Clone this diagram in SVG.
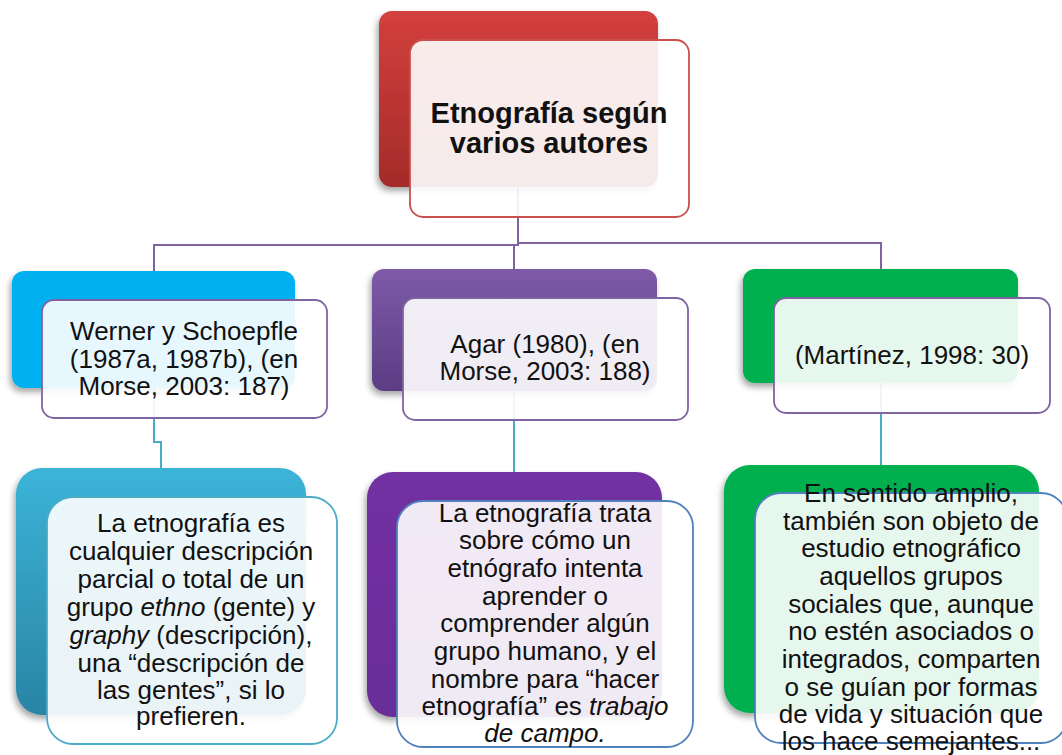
<svg xmlns="http://www.w3.org/2000/svg" width="1062" height="755" viewBox="0 0 1062 755">
<defs>
<filter id="sh" x="-10%" y="-10%" width="120%" height="130%">
<feDropShadow dx="-2" dy="4" stdDeviation="3" flood-color="#000" flood-opacity="0.35"/>
</filter>
<linearGradient id="gRed" x1="0" y1="0" x2="0" y2="1"><stop offset="0" stop-color="#d3403c"/><stop offset="1" stop-color="#a42b2a"/></linearGradient>
<linearGradient id="gTeal" x1="0" y1="0" x2="0" y2="1"><stop offset="0" stop-color="#3bb4d8"/><stop offset="1" stop-color="#2a84a4"/></linearGradient>
<linearGradient id="gPurp" x1="0" y1="0" x2="0" y2="1"><stop offset="0" stop-color="#7d5aa8"/><stop offset="1" stop-color="#5c3d84"/></linearGradient>
<linearGradient id="gVio" x1="0" y1="0" x2="0" y2="1"><stop offset="0" stop-color="#7230a2"/><stop offset="1" stop-color="#6a2d98"/></linearGradient>
</defs>
<style>
.back{filter:url(#sh)}
.front{fill:#ffffff;fill-opacity:0.9;stroke-width:1.8}
.t{font-family:"Liberation Sans",Arial,sans-serif;font-size:26px;fill:#111;text-anchor:middle}
.tb{font-family:"Liberation Sans",Arial,sans-serif;font-size:29px;font-weight:bold;fill:#111;text-anchor:middle}
.cP{fill:none;stroke:#8064a2;stroke-width:2}
.cB{fill:none;stroke:#4bacc6;stroke-width:2}
</style>
<g id="connectors">
<path class="cP" d="M518,188 V245 H154 V271"/>
<path class="cP" d="M518,243 H881 V269"/>
<path class="cP" d="M514,245 V269"/>
<path class="cB" d="M154,388 V442 H161 V468"/>
<path class="cB" d="M514,391 V472"/>
<path class="cB" d="M881,383 V465"/>
</g>
<g id="root">
<rect class="back" x="379" y="11" width="279" height="176" rx="13" fill="url(#gRed)"/>
<rect class="front" x="410" y="40" width="279" height="177" rx="13" stroke="#c9504c"/>
<text class="tb"><tspan x="549" y="123">Etnografía según</tspan><tspan x="549" y="153">varios autores</tspan></text>
</g>
<g id="werner">
<rect class="back" x="12" y="271" width="283" height="117" rx="12" fill="#00b0f0"/>
<rect class="front" x="42" y="300" width="285" height="118" rx="12" stroke="#8064a2"/>
<text class="t"><tspan x="184" y="340">Werner y Schoepfle</tspan><tspan x="184" y="368">(1987a, 1987b), (en</tspan><tspan x="184" y="395">Morse, 2003: 187)</tspan></text>
</g>
<g id="agar">
<rect class="back" x="372" y="269" width="285" height="122" rx="12" fill="url(#gPurp)"/>
<rect class="front" x="403" y="298" width="285" height="122" rx="12" stroke="#8064a2"/>
<text class="t"><tspan x="545" y="353">Agar (1980), (en</tspan><tspan x="545" y="380">Morse, 2003: 188)</tspan></text>
</g>
<g id="martinez">
<rect class="back" x="743" y="269" width="275" height="114" rx="12" fill="#00b050"/>
<rect class="front" x="774" y="298" width="276" height="115" rx="12" stroke="#8064a2"/>
<text class="t"><tspan x="912" y="364">(Martínez, 1998: 30)</tspan></text>
</g>
<g id="def-werner">
<rect class="back" x="16" y="468" width="290" height="247" rx="26" fill="url(#gTeal)"/>
<rect class="front" x="47" y="497" width="290" height="247" rx="26" stroke="#4bacc6"/>
<text class="t"><tspan x="191" y="532">La etnografía es</tspan><tspan x="191" y="560">cualquier descripción</tspan><tspan x="191" y="588">parcial o total de un</tspan><tspan x="191" y="616">grupo <tspan font-style="italic">ethno</tspan> (gente) y</tspan><tspan x="191" y="644"><tspan font-style="italic">graphy</tspan> (descripción),</tspan><tspan x="191" y="672">una “descripción de</tspan><tspan x="191" y="699">las gentes”, si lo</tspan><tspan x="191" y="725">prefieren.</tspan></text>
</g>
<g id="def-agar">
<rect class="back" x="367" y="472" width="295" height="245" rx="26" fill="url(#gVio)"/>
<rect class="front" x="397" y="501" width="296" height="246" rx="26" stroke="#4f81bd"/>
<text class="t"><tspan x="545" y="522">La etnografía trata</tspan><tspan x="545" y="549">sobre cómo un</tspan><tspan x="545" y="577">etnógrafo intenta</tspan><tspan x="545" y="605">aprender o</tspan><tspan x="545" y="632">comprender algún</tspan><tspan x="545" y="660">grupo humano, y el</tspan><tspan x="545" y="688">nombre para “hacer</tspan><tspan x="545" y="715">etnografía” es <tspan font-style="italic">trabajo</tspan></tspan><tspan x="545" y="742" font-style="italic">de campo.</tspan></text>
</g>
<g id="def-martinez">
<rect class="back" x="724" y="465" width="315" height="248" rx="26" fill="#00b050"/>
<rect class="front" x="755" y="493" width="312" height="250" rx="26" stroke="#4f81bd"/>
<text class="t"><tspan x="911" y="502">En sentido amplio,</tspan><tspan x="911" y="530">también son objeto de</tspan><tspan x="911" y="557">estudio etnográfico</tspan><tspan x="911" y="585">aquellos grupos</tspan><tspan x="911" y="613">sociales que, aunque</tspan><tspan x="911" y="640">no estén asociados o</tspan><tspan x="911" y="668">integrados, comparten</tspan><tspan x="911" y="696">o se guían por formas</tspan><tspan x="911" y="723">de vida y situación que</tspan><tspan x="911" y="750">los hace semejantes...</tspan></text>
</g>
</svg>
